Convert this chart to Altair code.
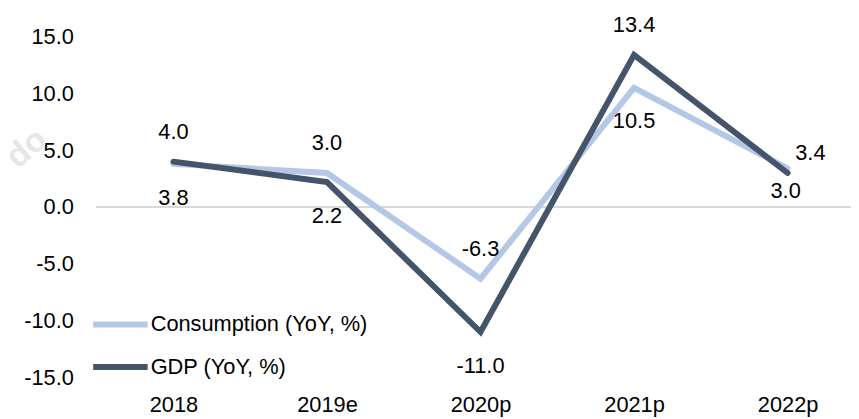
import altair as alt
import pandas as pd

years = ["2018", "2019e", "2020p", "2021p", "2022p"]
consumption = [3.8, 3.0, -6.3, 10.5, 3.4]
gdp = [4.0, 2.2, -11.0, 13.4, 3.0]
series_names = ["Consumption (YoY, %)", "GDP (YoY, %)"]
series_colors = ["#b4c7e7", "#44546a"]
y_ticks = [-15, -10, -5, 0, 5, 10, 15]

rows = []
for i, y in enumerate(years):
    rows.append({"year": y, "series": series_names[0], "value": consumption[i], "order": i})
    rows.append({"year": y, "series": series_names[1], "value": gdp[i], "order": i})
df = pd.DataFrame(rows)

FONT = "Liberation Sans"
FS = 22

x_scale = alt.Scale(type="point", range=[78, 698], padding=0)
y_scale = alt.Scale(domain=[-15, 15], nice=False, zero=False)
x_axis = alt.Axis(title=None, orient="bottom", domain=False, ticks=False,
                  labelAngle=0, labelPadding=17, labelFont=FONT,
                  labelFontSize=FS, labelColor="#000000", grid=False)
y_axis = alt.Axis(title=None, values=y_ticks, domain=False, ticks=False, grid=False,
                  labelPadding=23, labelFont=FONT, labelFontSize=FS,
                  labelColor="#000000",
                  labelExpr="(datum.value < 0 ? '-' : '') + format(abs(datum.value), '.1f')")

base = alt.Chart(df)

zero_rule = alt.Chart(pd.DataFrame({"value": [0]})).mark_rule(color="#d9d9d9", strokeWidth=2).encode(
    y=alt.Y("value:Q", scale=y_scale, axis=y_axis)
)

lines = base.mark_line(strokeWidth=6, strokeJoin="miter", strokeCap="round").encode(
    x=alt.X("year:O", sort=years, scale=x_scale, axis=x_axis),
    y=alt.Y("value:Q", scale=y_scale, axis=y_axis),
    color=alt.Color("series:N", sort=series_names,
                    scale=alt.Scale(domain=series_names, range=series_colors),
                    legend=alt.Legend(title=None, orient="none", legendX=-6, legendY=260,
                                      symbolType="stroke", symbolSize=3025,
                                      symbolStrokeWidth=6, labelFont=FONT,
                                      labelFontSize=FS, labelColor="#000000",
                                      labelOffset=0, labelLimit=500,
                                      rowPadding=0, padding=0)),
    order="order:Q",
)

labeled = base.transform_joinaggregate(
    vmax="max(value)", groupby=["year"]
).transform_calculate(
    above="datum.value == datum.vmax",
    label="(datum.value < 0 ? '-' : '') + format(abs(datum.value), '.1f')",
)

def text_layer(filt, dx, dy):
    return labeled.transform_filter(filt).mark_text(
        font=FONT, fontSize=FS, color="#000000", dx=dx, dy=dy, baseline="middle", align="center"
    ).encode(
        x=alt.X("year:O", sort=years, scale=x_scale, axis=x_axis),
        y=alt.Y("value:Q", scale=y_scale, axis=y_axis),
        text="label:N",
    )

t_above = text_layer("datum.above && datum.year != '2022p'", 0, -30)
t_below = text_layer("!datum.above && datum.year != '2022p'", 0, 34)
t_last_above = text_layer("datum.above && datum.year == '2022p'", 23, -16)
t_last_below = text_layer("!datum.above && datum.year == '2022p'", -2, 18)

watermark = alt.Chart(pd.DataFrame({"t": ["do"]})).mark_text(
    font=FONT, fontSize=34, fontWeight="bold", color="#e6e6e6", angle=320,
    align="center", baseline="middle"
).encode(x=alt.value(-70), y=alt.value(113), text="t:N")

chart = alt.layer(
    watermark, zero_rule, lines, t_above, t_below, t_last_above, t_last_below
).properties(
    width=762, height=344,
    background="#ffffff",
    autosize=alt.AutoSizeParams(type="none"),
    padding={"left": 89, "top": 27, "right": 0, "bottom": 40},
).configure_view(strokeWidth=0)

chart.save("out.html", embed_options={"renderer": "svg", "actions": False})
